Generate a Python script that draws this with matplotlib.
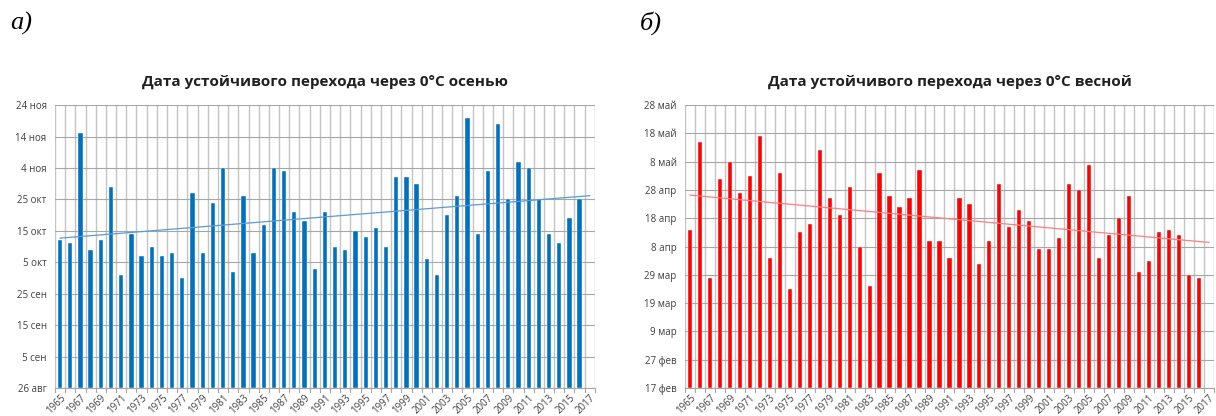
import numpy as np
import matplotlib
matplotlib.use("Agg")
import matplotlib.pyplot as plt

plt.rcParams["font.family"] = ["Open Sans", "DejaVu Sans"]

years = list(range(1965, 2018))

# days after 26 Aug (autumn) ; 2017 has no value
autumn_days = [47, 46, 81, 44, 47, 64, 36, 49, 42, 45, 42, 43, 35, 62, 43, 59, 70, 37, 61, 43,
               52, 70, 69, 56, 53, 38, 56, 45, 44, 50, 48, 51, 45, 67, 67, 65, 41, 36, 55, 61,
               86, 49, 69, 84, 60, 72, 70, 60, 49, 46, 54, 60, np.nan]
# days after 17 Feb (spring)
spring_days = [56, 87, 39, 74, 80, 69, 75, 89, 46, 76, 35, 55, 58, 84, 67, 61, 71, 50, 36, 76,
               68, 64, 67, 77, 52, 52, 46, 67, 65, 44, 52, 72, 57, 63, 59, 49, 49, 53, 72, 70,
               79, 46, 54, 60, 68, 41, 45, 55, 56, 54, 40, 39, np.nan]

autumn_ticks = ["26 авг", "5 сен", "15 сен", "25 сен", "5 окт", "15 окт", "25 окт",
                "4 ноя", "14 ноя", "24 ноя"]
spring_ticks = ["17 фев", "27 фев", "9 мар", "19 мар", "29 мар", "8 апр", "18 апр",
                "28 апр", "8 май", "18 май", "28 май"]

autumn_title = "Дата устойчивого перехода через 0°С осенью"
spring_title = "Дата устойчивого перехода через 0°С весной"


def draw_panel(ax, values, ticks, title, bar_color, trend_color):
    x = np.arange(len(years))
    vals = np.array(values, dtype=float)
    ax.bar(x, vals, width=0.42, color=bar_color, edgecolor="white", linewidth=0.3, zorder=3)

    ok = ~np.isnan(vals)
    k, b = np.polyfit(x[ok], vals[ok], 1)
    ax.plot(x, k * x + b, color=trend_color, linewidth=0.9, zorder=4)

    n_ticks = len(ticks)
    ax.set_ylim(0, (n_ticks - 1) * 10)
    ax.set_yticks(np.arange(n_ticks) * 10)
    ax.set_yticklabels(ticks, fontsize=7, color="#404040")
    ax.set_xlim(-0.5, len(years) - 0.5)

    ax.set_xticks(x[::2])
    ax.set_xticklabels([str(y) for y in years[::2]], rotation=45, ha="right",
                       rotation_mode="anchor", fontsize=7, color="#404040")
    ax.tick_params(axis="x", length=0, pad=3)
    ax.tick_params(axis="y", length=0, pad=6)

    # category boundaries: vertical grid and small outer ticks
    for edge in np.arange(len(years) + 1) - 0.5:
        ax.axvline(edge, color="#c4c4c4", linewidth=1.0, zorder=1)
        ax.plot([edge, edge], [0, -0.015], transform=ax.get_xaxis_transform(),
                color="#a6a6a6", linewidth=0.8, clip_on=False)

    ax.grid(axis="y", color="#a6a6a6", linewidth=0.8, zorder=0)
    for s in ["left", "right", "top"]:
        ax.spines[s].set_visible(False)
    ax.spines["bottom"].set_color("#a6a6a6")

    ax.set_title(title, fontsize=11, fontweight="bold", color="#202020", pad=14)


fig = plt.figure(figsize=(12.16, 4.16), dpi=100)
ax1 = fig.add_axes([0.0452, 0.0673, 0.444, 0.680])
ax2 = fig.add_axes([0.5633, 0.0673, 0.435, 0.680])

draw_panel(ax1, autumn_days, autumn_ticks, autumn_title, "#0070c0", "#5b9bd5")
draw_panel(ax2, spring_days, spring_ticks, spring_title, "#ff0000", "#ff7f7f")

fig.text(0.008, 0.93, "а)", fontsize=19, family="Liberation Serif", style="italic")
fig.text(0.526, 0.93, "б)", fontsize=19, family="Liberation Serif", style="italic")

fig.savefig("out.png", dpi=100)
